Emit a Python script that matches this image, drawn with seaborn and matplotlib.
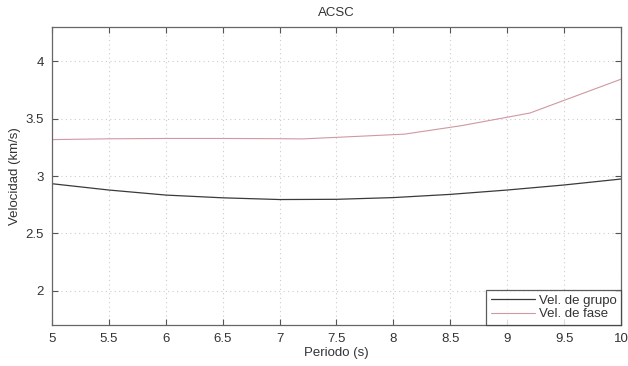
import matplotlib
matplotlib.use("Agg")
import matplotlib.pyplot as plt
import seaborn as sns
import pandas as pd

periodo_grupo = [5.0, 5.5, 6.0, 6.5, 7.0, 7.5, 8.0, 8.5, 9.0, 9.5, 10.0]
vel_grupo = [2.933, 2.878, 2.834, 2.810, 2.795, 2.797, 2.812, 2.840, 2.878, 2.922, 2.974]

periodo_fase = [5.0, 5.5, 6.0, 6.5, 7.0, 7.2, 7.7, 8.1, 8.6, 9.2, 10.0]
vel_fase = [3.318, 3.325, 3.328, 3.328, 3.326, 3.324, 3.347, 3.366, 3.44, 3.55, 3.845]

xticks = [5, 5.5, 6, 6.5, 7, 7.5, 8, 8.5, 9, 9.5, 10]
xticklabels = ["5", "5.5", "6", "6.5", "7", "7.5", "8", "8.5", "9", "9.5", "10"]
yticks = [2, 2.5, 3, 3.5, 4]
yticklabels = ["2", "2.5", "3", "3.5", "4"]

sns.set_style("white")
plt.rcParams["font.family"] = ["Liberation Sans", "DejaVu Sans"]

fig = plt.figure(figsize=(6.28, 3.66), dpi=100)
ax = fig.add_axes([0.0828, 0.112, 0.906, 0.814])

df_g = pd.DataFrame({"Periodo": periodo_grupo, "Vel": vel_grupo})
df_f = pd.DataFrame({"Periodo": periodo_fase, "Vel": vel_fase})
sns.lineplot(data=df_g, x="Periodo", y="Vel", ax=ax, color="#3a3a3a", lw=0.9,
             label="Vel. de grupo")
sns.lineplot(data=df_f, x="Periodo", y="Vel", ax=ax, color="#cf98a2", lw=0.8,
             label="Vel. de fase")

ax.set_xlim(5, 10)
ax.set_ylim(1.7, 4.3)
ax.set_xticks(xticks)
ax.set_xticklabels(xticklabels)
ax.set_yticks(yticks)
ax.set_yticklabels(yticklabels)
ax.grid(True, linestyle=(0, (1, 3)), color="#cccccc", lw=0.8)
ax.tick_params(axis="both", direction="in", length=4, color="#555555",
               labelsize=9.5, labelcolor="#333333", top=True, right=True,
               bottom=True, left=True, pad=6)
for s in ax.spines.values():
    s.set_color("#666666")
    s.set_linewidth(0.9)

ax.set_xlabel("Periodo (s)", fontsize=9.5, color="#333333", labelpad=1)
ax.set_ylabel("Velocidad (km/s)", fontsize=9.5, color="#333333", labelpad=3)
ax.set_title("ACSC", fontsize=9.5, color="#333333", pad=8)

leg = ax.legend(loc="lower right", fontsize=9.5, frameon=True, fancybox=False,
                borderaxespad=0, handlelength=3.3, handletextpad=0.3,
                borderpad=0.35, labelspacing=0.1)
leg.get_frame().set_edgecolor("#333333")
leg.get_frame().set_linewidth(0.9)
for t in leg.get_texts():
    t.set_color("#333333")

fig.savefig("out.png", dpi=100)
